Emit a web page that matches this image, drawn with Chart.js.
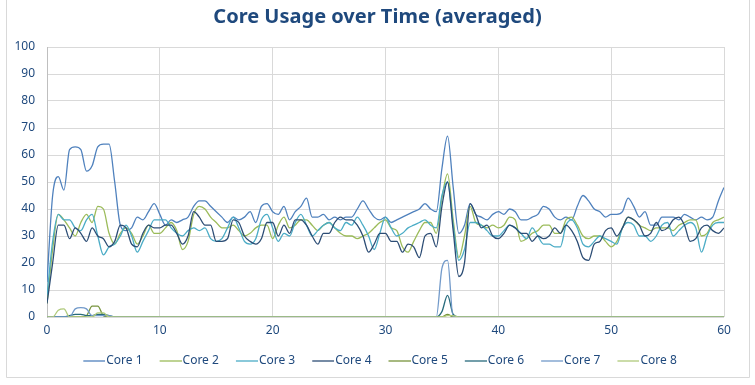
<!DOCTYPE html>
<html lang="en">
<head>
    <meta charset="UTF-8">
    <title>Core Usage over Time</title>
    <script src="https://cdn.jsdelivr.net/npm/chart.js"></script>
    <style>
        body { margin: 0; background: #fff; }
        .chart-box { width: 755px; height: 385px; position: relative; }
    </style>
</head>
<body>

<div class="chart-box">
    <canvas id="coreChart"></canvas>
</div>

<script>
    // one sample every half second, 0..60 s
    const sampleStep = 0.5;

    const coreNames = ['Core 1', 'Core 2', 'Core 3', 'Core 4', 'Core 5', 'Core 6', 'Core 7', 'Core 8'];
    const coreColors = ['#4F81BD', '#9BBB59', '#4BACC6', '#2C4D75', '#77933C', '#276A7C', '#729ACA', '#AFC97A'];

    const xTicks = [0, 10, 20, 30, 40, 50, 60];
    const yTicks = [0, 10, 20, 30, 40, 50, 60, 70, 80, 90, 100];

    // each row is 10 seconds of samples
    const core1 = [
        13, 45, 52, 47, 62, 63, 62, 54, 56, 63, 64, 64, 50, 34, 32, 33, 37, 36, 39, 42,
        38, 34, 36, 35, 36, 37, 41, 43, 43, 41, 39, 37, 35, 37, 36, 37, 39, 35, 41, 42,
        39, 38, 41, 36, 39, 41, 44, 37, 37, 38, 36, 37, 36, 37, 37, 40, 43, 40, 37, 36,
        37, 35, 36, 37, 38, 39, 40, 42, 40, 39, 55, 67, 48, 31, 34, 42, 38, 37, 36, 38,
        39, 38, 40, 39, 36, 36, 37, 38, 41, 40, 37, 36, 37, 36, 41, 45, 43, 40, 39, 37,
        38, 38, 39, 44, 41, 37, 39, 34, 34, 37, 37, 37, 36, 38, 37, 36, 37, 36, 37, 43,
        48
    ];
    const core2 = [
        5, 25, 38, 36, 33, 30, 35, 38, 35, 41, 40, 31, 27, 31, 33, 31, 27, 30, 34, 31,
        31, 33, 35, 32, 25, 28, 38, 41, 40, 37, 35, 33, 33, 34, 32, 30, 31, 33, 34, 34,
        29, 34, 37, 33, 34, 36, 36, 34, 32, 34, 35, 33, 31, 30, 30, 29, 30, 31, 33, 35,
        36, 33, 32, 26, 24, 28, 32, 35, 35, 31, 44, 53, 36, 22, 30, 41, 35, 34, 33, 34,
        33, 34, 37, 36, 28, 29, 31, 32, 34, 34, 31, 31, 36, 37, 34, 30, 29, 30, 30, 28,
        26, 28, 33, 37, 36, 34, 33, 32, 33, 33, 33, 32, 34, 35, 36, 36, 30, 31, 35, 36,
        37
    ];
    const core3 = [
        8, 28, 38, 36, 36, 33, 32, 36, 38, 30, 23, 26, 27, 30, 34, 30, 24, 28, 32, 36,
        36, 36, 33, 31, 30, 32, 33, 32, 33, 29, 28, 29, 33, 37, 33, 28, 27, 29, 36, 38,
        33, 28, 31, 30, 35, 38, 34, 30, 32, 34, 35, 33, 32, 35, 34, 37, 34, 30, 25, 31,
        37, 33, 30, 31, 33, 34, 35, 36, 34, 33, 45, 50, 34, 21, 25, 35, 35, 34, 32, 30,
        30, 32, 34, 33, 31, 29, 33, 30, 27, 27, 26, 26, 34, 36, 33, 27, 26, 28, 30, 29,
        28, 27, 33, 35, 34, 30, 30, 28, 30, 34, 35, 30, 32, 34, 35, 33, 24, 30, 34, 35,
        35
    ];
    const core4 = [
        5, 20, 34, 34, 29, 33, 31, 28, 33, 30, 29, 26, 28, 34, 33, 27, 26, 31, 34, 33,
        33, 34, 34, 31, 27, 30, 39, 37, 34, 34, 28, 28, 29, 36, 35, 30, 28, 27, 29, 35,
        35, 30, 34, 31, 36, 36, 34, 30, 27, 31, 31, 35, 37, 36, 36, 34, 30, 24, 27, 31,
        31, 28, 28, 24, 27, 26, 22, 30, 31, 26, 41, 50, 32, 15, 20, 42, 38, 33, 34, 30,
        29, 31, 34, 33, 31, 31, 28, 30, 29, 30, 33, 31, 34, 32, 28, 22, 21, 27, 28, 32,
        33, 30, 33, 37, 36, 34, 30, 31, 35, 32, 33, 36, 37, 34, 28, 29, 33, 34, 32, 31,
        33
    ];
    const core5 = [
        0, 0, 0, 0, 0, 0, 0, 0.5, 4, 4, 0.5, 0, 0, 0, 0, 0, 0, 0, 0, 0,
        0, 0, 0, 0, 0, 0, 0, 0, 0, 0, 0, 0, 0, 0, 0, 0, 0, 0, 0, 0,
        0, 0, 0, 0, 0, 0, 0, 0, 0, 0, 0, 0, 0, 0, 0, 0, 0, 0, 0, 0,
        0, 0, 0, 0, 0, 0, 0, 0, 0, 0, 0, 1, 0, 0, 0, 0, 0, 0, 0, 0,
        0, 0, 0, 0, 0, 0, 0, 0, 0, 0, 0, 0, 0, 0, 0, 0, 0, 0, 0, 0,
        0, 0, 0, 0, 0, 0, 0, 0, 0, 0, 0, 0, 0, 0, 0, 0, 0, 0, 0, 0,
        0
    ];
    const core6 = [
        0, 0, 0, 0, 0.5, 1, 1, 0.5, 0.5, 1, 1, 0.5, 0, 0, 0, 0, 0, 0, 0, 0,
        0, 0, 0, 0, 0, 0, 0, 0, 0, 0, 0, 0, 0, 0, 0, 0, 0, 0, 0, 0,
        0, 0, 0, 0, 0, 0, 0, 0, 0, 0, 0, 0, 0, 0, 0, 0, 0, 0, 0, 0,
        0, 0, 0, 0, 0, 0, 0, 0, 0, 0, 2, 8, 1, 0, 0, 0, 0, 0, 0, 0,
        0, 0, 0, 0, 0, 0, 0, 0, 0, 0, 0, 0, 0, 0, 0, 0, 0, 0, 0, 0,
        0, 0, 0, 0, 0, 0, 0, 0, 0, 0, 0, 0, 0, 0, 0, 0, 0, 0, 0, 0,
        0
    ];
    const core7 = [
        0, 0, 0, 0, 0, 3, 3.5, 3, 0.5, 0.5, 0.5, 0.5, 0, 0, 0, 0, 0, 0, 0, 0,
        0, 0, 0, 0, 0, 0, 0, 0, 0, 0, 0, 0, 0, 0, 0, 0, 0, 0, 0, 0,
        0, 0, 0, 0, 0, 0, 0, 0, 0, 0, 0, 0, 0, 0, 0, 0, 0, 0, 0, 0,
        0, 0, 0, 0, 0, 0, 0, 0, 0, 0, 18, 21, 0, 0, 0, 0, 0, 0, 0, 0,
        0, 0, 0, 0, 0, 0, 0, 0, 0, 0, 0, 0, 0, 0, 0, 0, 0, 0, 0, 0,
        0, 0, 0, 0, 0, 0, 0, 0, 0, 0, 0, 0, 0, 0, 0, 0, 0, 0, 0, 0,
        0
    ];
    const core8 = [
        0, 0, 2.5, 3, 0, 0, 0, 0, 0, 1.5, 1.5, 0, 0, 0, 0, 0, 0, 0, 0, 0,
        0, 0, 0, 0, 0, 0, 0, 0, 0, 0, 0, 0, 0, 0, 0, 0, 0, 0, 0, 0,
        0, 0, 0, 0, 0, 0, 0, 0, 0, 0, 0, 0, 0, 0, 0, 0, 0, 0, 0, 0,
        0, 0, 0, 0, 0, 0, 0, 0, 0, 0, 0, 0.5, 0.5, 0, 0, 0, 0, 0, 0, 0,
        0, 0, 0, 0, 0, 0, 0, 0, 0, 0, 0, 0, 0, 0, 0, 0, 0, 0, 0, 0,
        0, 0, 0, 0, 0, 0, 0, 0, 0, 0, 0, 0, 0, 0, 0, 0, 0, 0, 0, 0,
        0
    ];

    const coreSeries = [core1, core2, core3, core4, core5, core6, core7, core8];

    const textColor = '#1F497D';
    const gridColor = '#d9d9d9';

    const datasets = coreSeries.map((values, i) => ({
        label: coreNames[i],
        data: values.map((v, j) => ({ x: j * sampleStep, y: v })),
        borderColor: coreColors[i],
        backgroundColor: coreColors[i],
        borderWidth: 1.3,
        pointRadius: 0,
        fill: false,
        cubicInterpolationMode: 'monotone',
        order: coreSeries.length - i   // later cores painted on top, like Excel
    }));

    // legend marker: a short line that sits right against the label text
    function legendIcon(color) {
        const icon = document.createElement('canvas');
        icon.width = 32;
        icon.height = 4;
        const g = icon.getContext('2d');
        g.strokeStyle = color;
        g.lineWidth = 1.3;
        g.beginPath();
        g.moveTo(10, 2);
        g.lineTo(32, 2);
        g.stroke();
        return icon;
    }
    const legendIcons = coreColors.map(legendIcon);

    // light frame around the whole chart; title and legend centred on it
    const framePlugin = {
        id: 'frame',
        afterLayout(chart) {
            [chart.legend, chart.titleBlock].forEach(box => {
                if (box) {
                    box.left = 0;
                    box.right = 755;
                    box.width = 755;
                }
            });
        },
        beforeDraw(chart) {
            const c = chart.ctx;
            c.save();
            c.strokeStyle = '#d9d9d9';
            c.lineWidth = 1;
            c.beginPath();
            c.moveTo(6.5, 0);
            c.lineTo(6.5, 377.5);
            c.lineTo(749.5, 377.5);
            c.lineTo(749.5, 0);
            c.stroke();
            c.restore();
        }
    };

    Chart.defaults.font.family = "'Noto Sans', 'DejaVu Sans', sans-serif";

    const ctx = document.getElementById('coreChart').getContext('2d');

    const coreChart = new Chart(ctx, {
        type: 'line',
        data: { datasets: datasets },
        plugins: [framePlugin],
        options: {
            responsive: true,
            maintainAspectRatio: false,
            animation: false,
            layout: { padding: { left: 0, right: 31, top: 0, bottom: 8 } },
            plugins: {
                title: {
                    display: true,
                    text: 'Core Usage over Time (averaged)',
                    color: textColor,
                    font: { size: 20, weight: 'bold' },
                    padding: { top: 5, bottom: 18 }
                },
                legend: {
                    display: true,
                    position: 'bottom',
                    labels: {
                        usePointStyle: true,
                        pointStyleWidth: 22,
                        color: textColor,
                        font: { size: 12 },
                        padding: 12,
                        sort: (a, b) => a.datasetIndex - b.datasetIndex,
                        generateLabels: chart => {
                            const items = Chart.defaults.plugins.legend.labels.generateLabels(chart);
                            items.forEach(item => { item.pointStyle = legendIcons[item.datasetIndex]; });
                            return items;
                        }
                    }
                },
                tooltip: { enabled: false }
            },
            scales: {
                x: {
                    type: 'linear',
                    min: 0,
                    max: 60,
                    afterBuildTicks: axis => { axis.ticks = xTicks.map(v => ({ value: v })); },
                    afterFit: axis => { axis.height = 26; },
                    ticks: { color: textColor, font: { size: 12 }, padding: 6, maxRotation: 0 },
                    grid: { color: gridColor, drawTicks: false },
                    border: { display: false }
                },
                y: {
                    min: 0,
                    max: 100,
                    afterBuildTicks: axis => { axis.ticks = yTicks.map(v => ({ value: v })); },
                    afterFit: axis => { axis.width = 47; },
                    ticks: { color: textColor, font: { size: 12 }, padding: 12 },
                    grid: { color: gridColor, drawTicks: false },
                    border: { color: '#bfbfbf' }
                }
            }
        }
    });
</script>

</body>
</html>
